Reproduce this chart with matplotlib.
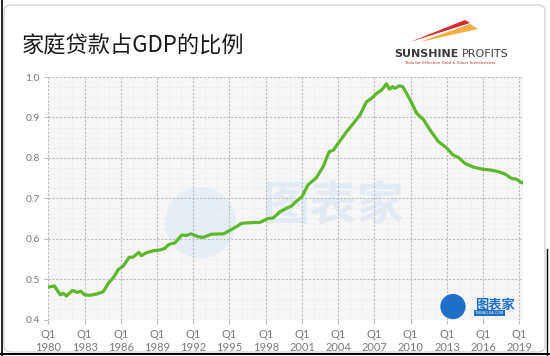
import matplotlib
matplotlib.use("Agg")
import matplotlib.pyplot as plt
from matplotlib.patches import FancyBboxPatch, Polygon
from matplotlib.lines import Line2D
import numpy as np

plt.rcParams['font.family'] = ['Noto Sans CJK SC', 'DejaVu Sans']

title = "家庭贷款占GDP的比例"

years = [1980.0, 1980.5, 1981.0, 1981.25, 1981.5, 1982.0, 1982.4, 1982.7, 1983.0, 1983.45,
         1984.0, 1984.55, 1985.0, 1985.4, 1985.8, 1986.2, 1986.7, 1987.0, 1987.5, 1987.7,
         1988.1, 1988.7, 1989.25, 1989.65, 1989.95, 1990.5, 1991.05, 1991.45, 1991.8, 1992.4,
         1992.8, 1993.5, 1994.5, 1995.05, 1995.6, 1996.0, 1997.0, 1997.5, 1998.2, 1998.6,
         1999.2, 1999.9, 2000.15, 2000.4, 2001.0, 2001.5, 2002.2, 2002.75, 2003.25, 2003.6,
         2004.15, 2004.7, 2005.25, 2005.8, 2006.35, 2006.75, 2007.2, 2007.6, 2008.0, 2008.25,
         2008.5, 2008.7, 2009.05, 2009.35, 2009.65, 2010.1, 2010.5, 2011.05, 2011.6, 2012.3,
         2013.0, 2013.5, 2013.95, 2014.5, 2015.2, 2015.9, 2016.55, 2017.25, 2017.8, 2018.35,
         2018.75, 2019.15, 2019.3]
ratio = [0.480, 0.483, 0.461, 0.465, 0.458, 0.472, 0.467, 0.470, 0.461, 0.460,
         0.463, 0.469, 0.491, 0.504, 0.524, 0.532, 0.554, 0.554, 0.566, 0.558,
         0.565, 0.570, 0.572, 0.576, 0.585, 0.590, 0.609, 0.608, 0.612, 0.605,
         0.603, 0.611, 0.612, 0.621, 0.630, 0.638, 0.640, 0.640, 0.650, 0.651,
         0.667, 0.678, 0.681, 0.689, 0.704, 0.733, 0.751, 0.778, 0.815, 0.819,
         0.842, 0.865, 0.885, 0.906, 0.939, 0.947, 0.960, 0.968, 0.983, 0.970,
         0.976, 0.972, 0.978, 0.976, 0.960, 0.935, 0.910, 0.895, 0.869, 0.840,
         0.824, 0.807, 0.801, 0.786, 0.777, 0.772, 0.770, 0.766, 0.760, 0.749,
         0.747, 0.739, 0.738]

xtick_years = [1980, 1983, 1986, 1989, 1992, 1995, 1998, 2001, 2004, 2007, 2010, 2013, 2016, 2019]
xtick_labels = ["Q1\n%d" % y for y in xtick_years]
yticks = [0.4, 0.5, 0.6, 0.7, 0.8, 0.9, 1.0]
ytick_labels = ["0.4", "0.5", "0.6", "0.7", "0.8", "0.9", "1.0"]

W, H = 550, 356
fig = plt.figure(figsize=(W / 100, H / 100), dpi=100)
fig.patch.set_facecolor('white')

# frame
frame = FancyBboxPatch((4 / W, 4 / H), (W - 9) / W, (H - 9) / H,
                       boxstyle="round,pad=0,rounding_size=0.015",
                       transform=fig.transFigure, facecolor='none',
                       edgecolor='#d4d4d4', linewidth=1.0, zorder=0)
fig.patches.append(frame)
fig.add_artist(Line2D([1.5 / W, 1.5 / W], [0, 1], color='black', lw=1.2, transform=fig.transFigure))
fig.add_artist(Line2D([0, 1], [2.5 / H, 2.5 / H], color='black', lw=1.4, transform=fig.transFigure))
fig.add_artist(Line2D([547 / W, 547 / W], [0, 0.3], color='black', lw=1.0, transform=fig.transFigure))

x0, x1 = 48.3, 523.0
y_top, y_bot = 77.0, 319.5
ax = fig.add_axes([x0 / W, 1 - y_bot / H, (x1 - x0) / W, (y_bot - y_top) / H])
ax.set_facecolor('#f6f6f6')
ax.set_xlim(1980, 2019.3)
ax.set_ylim(0.4, 1.0)

for s in ax.spines.values():
    s.set_visible(False)

ax.set_xticks(xtick_years)
ax.set_xticklabels(xtick_labels, fontsize=8, color='#7a7a7a', family=['Lato', 'DejaVu Sans'],
                   linespacing=1.2)
ax.set_yticks(yticks)
ax.set_yticklabels(ytick_labels, fontsize=7.5, color='#7a7a7a', family=['Lato', 'DejaVu Sans'])
ax.tick_params(axis='x', length=3, width=0.8, color='#bbbbbb', pad=4)
ax.tick_params(axis='y', length=3, width=0.8, color='#bbbbbb', pad=3)

ax.set_xticks(np.arange(1980, 2020, 1), minor=True)
ax.set_yticks(np.arange(0.4, 1.0001, 0.025), minor=True)
ax.tick_params(which='minor', length=0)
ax.grid(which='minor', color='#e4e4e4', linestyle=':', linewidth=0.6, zorder=0.6)
ax.grid(which='major', color='#bdbdbd', linestyle=(0, (2, 1.5)), linewidth=0.8, zorder=0.6)
ax.set_axisbelow(True)

# watermarks (under the grid)
ax.scatter([1992.6], [0.64], s=2600, color='#e6eef6', zorder=0.2, marker='o', edgecolors='none')
ax.text(2003.6, 0.682, "图表家", fontsize=34, color='#e3ecf5', ha='center', va='center',
        zorder=0.2, fontweight='bold')
ax.text(2015.3, 0.437, "图表家", fontsize=9.5, color='#1e6fc8', ha='left', va='center',
        zorder=3, fontweight='bold')
ax.text(2015.3, 0.416, "TUBIAOJIA.COM", fontsize=2.8, color='white', ha='left', va='center',
        zorder=4, bbox=dict(facecolor='#1e6fc8', edgecolor='none', pad=0.5))
ax.scatter([2013.5], [0.432], s=330, color='#1e6fc8', zorder=3, marker='o', edgecolors='none')

ax.plot(years, ratio, color='#5cb82a', linewidth=2.3, solid_capstyle='round',
        solid_joinstyle='round', zorder=5)

# title
fig.text(22 / W, 1 - 46 / H, title, fontsize=16, color='#1a1a1a', ha='left', va='center',
         fontweight='medium')

# logo
fig.text(459 / W, 1 - 54 / H, "SUNSHINE", fontsize=8, fontweight='bold', color='#3b3b3b',
         ha='right', va='center', family=['DejaVu Sans'])
fig.text(462 / W, 1 - 54 / H, "PROFITS", fontsize=8, color='#3b3b3b',
         ha='left', va='center', family=['DejaVu Sans'])
fig.text(404 / W, 1 - 63 / H, "Tools for Effective Gold & Silver Investments", fontsize=3,
         color='#b03030', ha='left', va='center', family=['DejaVu Sans'])
fig.patches.append(Polygon([[410 / W, 1 - 42 / H], [465 / W, 1 - 20 / H], [470 / W, 1 - 23 / H]],
                           closed=True, transform=fig.transFigure, facecolor='#d8262b',
                           edgecolor='none'))
fig.patches.append(Polygon([[420 / W, 1 - 42 / H], [470 / W, 1 - 24 / H], [478 / W, 1 - 29 / H]],
                           closed=True, transform=fig.transFigure, facecolor='#f0a020',
                           edgecolor='none', alpha=0.85))

fig.savefig("out.png", dpi=100, facecolor=fig.get_facecolor())
